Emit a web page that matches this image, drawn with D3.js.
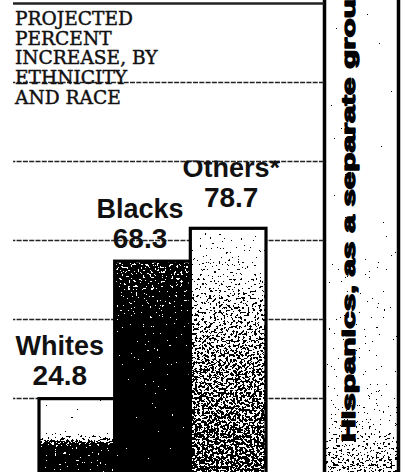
<!DOCTYPE html>
<html><head><meta charset="utf-8">
<script src="https://cdn.jsdelivr.net/npm/d3@7"></script>
<style>html,body{margin:0;padding:0;background:#fff;}svg{display:block;}</style>
</head><body>
<script>
// ---- data ----
const categories = ["Whites", "Blacks", "Others*"];
const values = [24.8, 68.3, 78.7];
const gridValues = [25, 50, 75, 100, 125, 150];
const titleLines = ["PROJECTED", "PERCENT", "INCREASE, BY", "ETHNICITY", "AND RACE"];
const sideNote = "Hispanics, as a separate group";

// ---- layout ----
const W = 414, H = 472;
const svg = d3.select("body").append("svg").attr("width", W).attr("height", H);
svg.append("rect").attr("width", W).attr("height", H).attr("fill", "#fff");

const y = d3.scaleLinear().domain([0, 150]).range([477, 3]);
const x = d3.scaleBand().domain(categories).range([39, 266]).padding(0);

const defs = svg.append("defs");
// stipple (halftone) filter
const f = defs.append("filter").attr("id", "stipple")
  .attr("filterUnits", "userSpaceOnUse").attr("x", 0).attr("y", 0)
  .attr("width", W).attr("height", H)
  .attr("color-interpolation-filters", "sRGB");
f.append("feTurbulence").attr("type", "fractalNoise").attr("baseFrequency", 0.42)
  .attr("numOctaves", 2).attr("seed", 11).attr("result", "n");
f.append("feColorMatrix").attr("in", "n").attr("type", "matrix")
  .attr("values", "1 0 0 0 0 1 0 0 0 0 1 0 0 0 0 0 0 0 0 1").attr("result", "ng");
f.append("feComposite").attr("in", "SourceGraphic").attr("in2", "ng")
  .attr("operator", "arithmetic").attr("k1", 0).attr("k2", 1).attr("k3", 1.5).attr("k4", -0.75)
  .attr("result", "sum");
const ct = f.append("feComponentTransfer").attr("in", "sum").attr("result", "th");
["R", "G", "B"].forEach(c => ct.append("feFunc" + c).attr("type", "discrete").attr("tableValues", "0 1"));
f.append("feComposite").attr("in", "th").attr("in2", "SourceAlpha").attr("operator", "in");

// gradients describing print density
const shades = {
  "Whites": [[0, "#fff"], [0.38, "#fff"], [0.5, "#b0b0b0"], [0.62, "#2a2a2a"], [1, "#111"]],
  "Blacks": [[0, "#5a5a5a"], [0.15, "#3a3a3a"], [0.35, "#141414"], [1, "#000"]],
  "Others*": [[0, "#e6e6e6"], [0.12, "#d2d2d2"], [0.3, "#a8a8a8"], [0.55, "#848484"], [0.8, "#747474"], [1, "#666"]],
  "panel": [[0, "#fff"], [0.45, "#fff"], [0.55, "#f0f0f0"], [0.85, "#e0e0e0"], [0.93, "#bababa"], [1, "#9a9a9a"]]
};
Object.keys(shades).forEach((k, i) => {
  const g = defs.append("linearGradient").attr("id", "grad" + i)
    .attr("x1", 0).attr("y1", 0).attr("x2", 0).attr("y2", 1);
  shades[k].forEach(s => g.append("stop").attr("offset", s[0]).attr("stop-color", s[1]));
});
const gradId = k => "url(#grad" + Object.keys(shades).indexOf(k) + ")";

// ---- right side panel ----
svg.append("rect").attr("x", 326).attr("y", 0).attr("width", 71).attr("height", H)
  .attr("fill", gradId("panel")).attr("filter", "url(#stipple)");
[324.5, 398.5].forEach(px => svg.append("line").attr("x1", px).attr("x2", px)
  .attr("y1", 0).attr("y2", H).attr("stroke", "#000").attr("stroke-width", 3.5));
svg.append("text")
  .attr("transform", "translate(355,442) rotate(-90)")
  .attr("font-family", "'Liberation Sans', Arial, sans-serif")
  .attr("font-weight", "bold").attr("font-size", 18.5)
  .attr("stroke", "#000").attr("stroke-width", 1.3).attr("stroke-linejoin", "round")
  .attr("textLength", 462).attr("lengthAdjust", "spacingAndGlyphs")
  .text(sideNote);

// ---- gridlines ----
const grid = svg.append("g").attr("transform", "translate(324,0)")
  .call(d3.axisLeft(y).tickValues(gridValues).tickSize(311).tickFormat(""));
grid.select(".domain").remove();
grid.selectAll(".tick line")
  .attr("stroke", "#222")
  .attr("stroke-width", d => d === 150 ? 2.4 : 1.4)
  .attr("stroke-dasharray", d => d === 150 ? null : "5,1.3");

// ---- title ----
svg.append("g").selectAll("text").data(titleLines).join("text")
  .attr("x", 15).attr("y", (d, i) => 25 + i * 19.7)
  .attr("font-family", "'DejaVu Serif', serif").attr("font-size", 18.6)
  .attr("fill", "#111").attr("stroke", "#111").attr("stroke-width", 0.45)
  .text(d => d);

// ---- bars ----
const data = categories.map((c, i) => ({ c, v: values[i] }));
svg.append("g").selectAll("rect").data(data).join("rect")
  .attr("x", d => x(d.c)).attr("y", d => y(d.v))
  .attr("width", x.bandwidth()).attr("height", d => y(0) - y(d.v))
  .attr("fill", d => gradId(d.c)).attr("filter", "url(#stipple)");
svg.append("g").selectAll("rect").data(data).join("rect")
  .attr("x", d => x(d.c)).attr("y", d => y(d.v))
  .attr("width", x.bandwidth()).attr("height", d => y(0) - y(d.v))
  .attr("fill", "none").attr("stroke", "#000").attr("stroke-width", 3.2);

// ---- labels ----
const nudge = { "Whites": [-17, -14], "Blacks": [-12.5, -13], "Others*": [3, -21] };
defs.append("clipPath").attr("id", "clipTop").append("rect")
  .attr("x", 0).attr("y", 160.5).attr("width", W).attr("height", H);
const fmt = d3.format(".1f");
const lab = svg.append("g")
  .attr("font-family", "'Liberation Sans', Arial, sans-serif")
  .attr("font-weight", "bold").attr("font-size", 27).attr("fill", "#111")
  .attr("text-anchor", "middle");
data.forEach(d => {
  const cx = x(d.c) + x.bandwidth() / 2 + nudge[d.c][0];
  const by = y(d.v) + nudge[d.c][1];
  lab.append("text").attr("x", cx).attr("y", by).attr("font-size", 28).text(fmt(d.v));
  lab.append("text").attr("x", cx).attr("y", by - 30)
    .attr("clip-path", "url(#clipTop)").text(d.c);
});
</script>
</body></html>
